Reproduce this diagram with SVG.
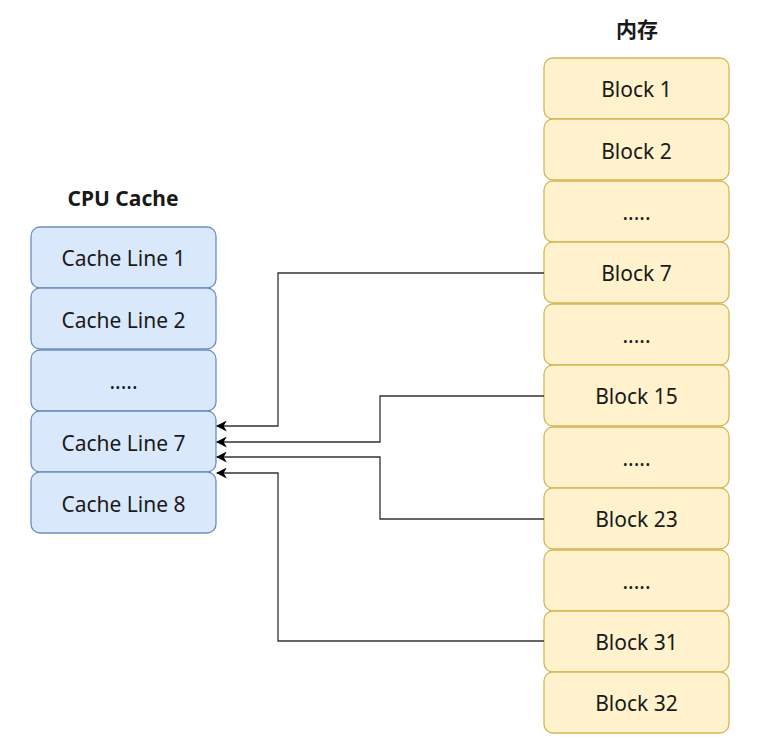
<svg xmlns="http://www.w3.org/2000/svg" width="759" height="743" viewBox="0 0 759 743">
<defs>
<style>
.c rect{fill:#dae8fc;stroke:#6c8ebf;stroke-width:1.3}
.m rect{fill:#fff2cc;stroke:#d6b656;stroke-width:1.3}
text{font-family:"Comic Sans MS","Noto Sans","Noto Sans CJK SC",sans-serif;font-size:21px;fill:#1a1a1a;text-anchor:middle;dominant-baseline:central}
.t{font-weight:bold}
.e path{fill:none;stroke:#333;stroke-width:1.3}
</style>
<marker id="a" viewBox="0 0 10 10" refX="9" refY="5" markerWidth="11" markerHeight="11" markerUnits="userSpaceOnUse" orient="auto">
<path d="M0,0 L10,5 L0,10 L3,5 Z" fill="#000"/>
</marker>
</defs>
<rect width="759" height="743" fill="#fff"/>
<text class="t" x="123" y="198">CPU Cache</text>
<text class="t" x="637" y="29">内存</text>
<g class="c">
<g id="cl1"><rect x="31" y="227" width="185" height="61" rx="9"/><text x="123.5" y="258">Cache Line 1</text></g>
<g id="cl2"><rect x="31" y="288" width="185" height="61" rx="9"/><text x="123.5" y="320">Cache Line 2</text></g>
<g id="cl3"><rect x="31" y="350" width="185" height="61" rx="9"/><text x="123.5" y="381">.....</text></g>
<g id="cl7"><rect x="31" y="411" width="185" height="61" rx="9"/><text x="123.5" y="443">Cache Line 7</text></g>
<g id="cl8"><rect x="31" y="472" width="185" height="61" rx="9"/><text x="123.5" y="504">Cache Line 8</text></g>
</g>
<g class="m">
<g id="b1"><rect x="544" y="58" width="185" height="61" rx="9"/><text x="636.5" y="89">Block 1</text></g>
<g id="b2"><rect x="544" y="119" width="185" height="61" rx="9"/><text x="636.5" y="151">Block 2</text></g>
<g id="b3"><rect x="544" y="181" width="185" height="61" rx="9"/><text x="636.5" y="212">.....</text></g>
<g id="b7"><rect x="544" y="242" width="185" height="61" rx="9"/><text x="636.5" y="273">Block 7</text></g>
<g id="b5"><rect x="544" y="304" width="185" height="61" rx="9"/><text x="636.5" y="335">.....</text></g>
<g id="b15"><rect x="544" y="365" width="185" height="61" rx="9"/><text x="636.5" y="396">Block 15</text></g>
<g id="b6"><rect x="544" y="427" width="185" height="61" rx="9"/><text x="636.5" y="458">.....</text></g>
<g id="b23"><rect x="544" y="488" width="185" height="61" rx="9"/><text x="636.5" y="519">Block 23</text></g>
<g id="b8"><rect x="544" y="550" width="185" height="61" rx="9"/><text x="636.5" y="581">.....</text></g>
<g id="b31"><rect x="544" y="611" width="185" height="61" rx="9"/><text x="636.5" y="642">Block 31</text></g>
<g id="b32"><rect x="544" y="672" width="185" height="61" rx="9"/><text x="636.5" y="703">Block 32</text></g>
</g>
<g class="e">
<path d="M544,273 H278 V426 H217" marker-end="url(#a)"/>
<path d="M544,396 H380 V442 H217" marker-end="url(#a)"/>
<path d="M544,519 H380 V457 H217" marker-end="url(#a)"/>
<path d="M544,641 H278 V473 H217" marker-end="url(#a)"/>
</g>
</svg>
